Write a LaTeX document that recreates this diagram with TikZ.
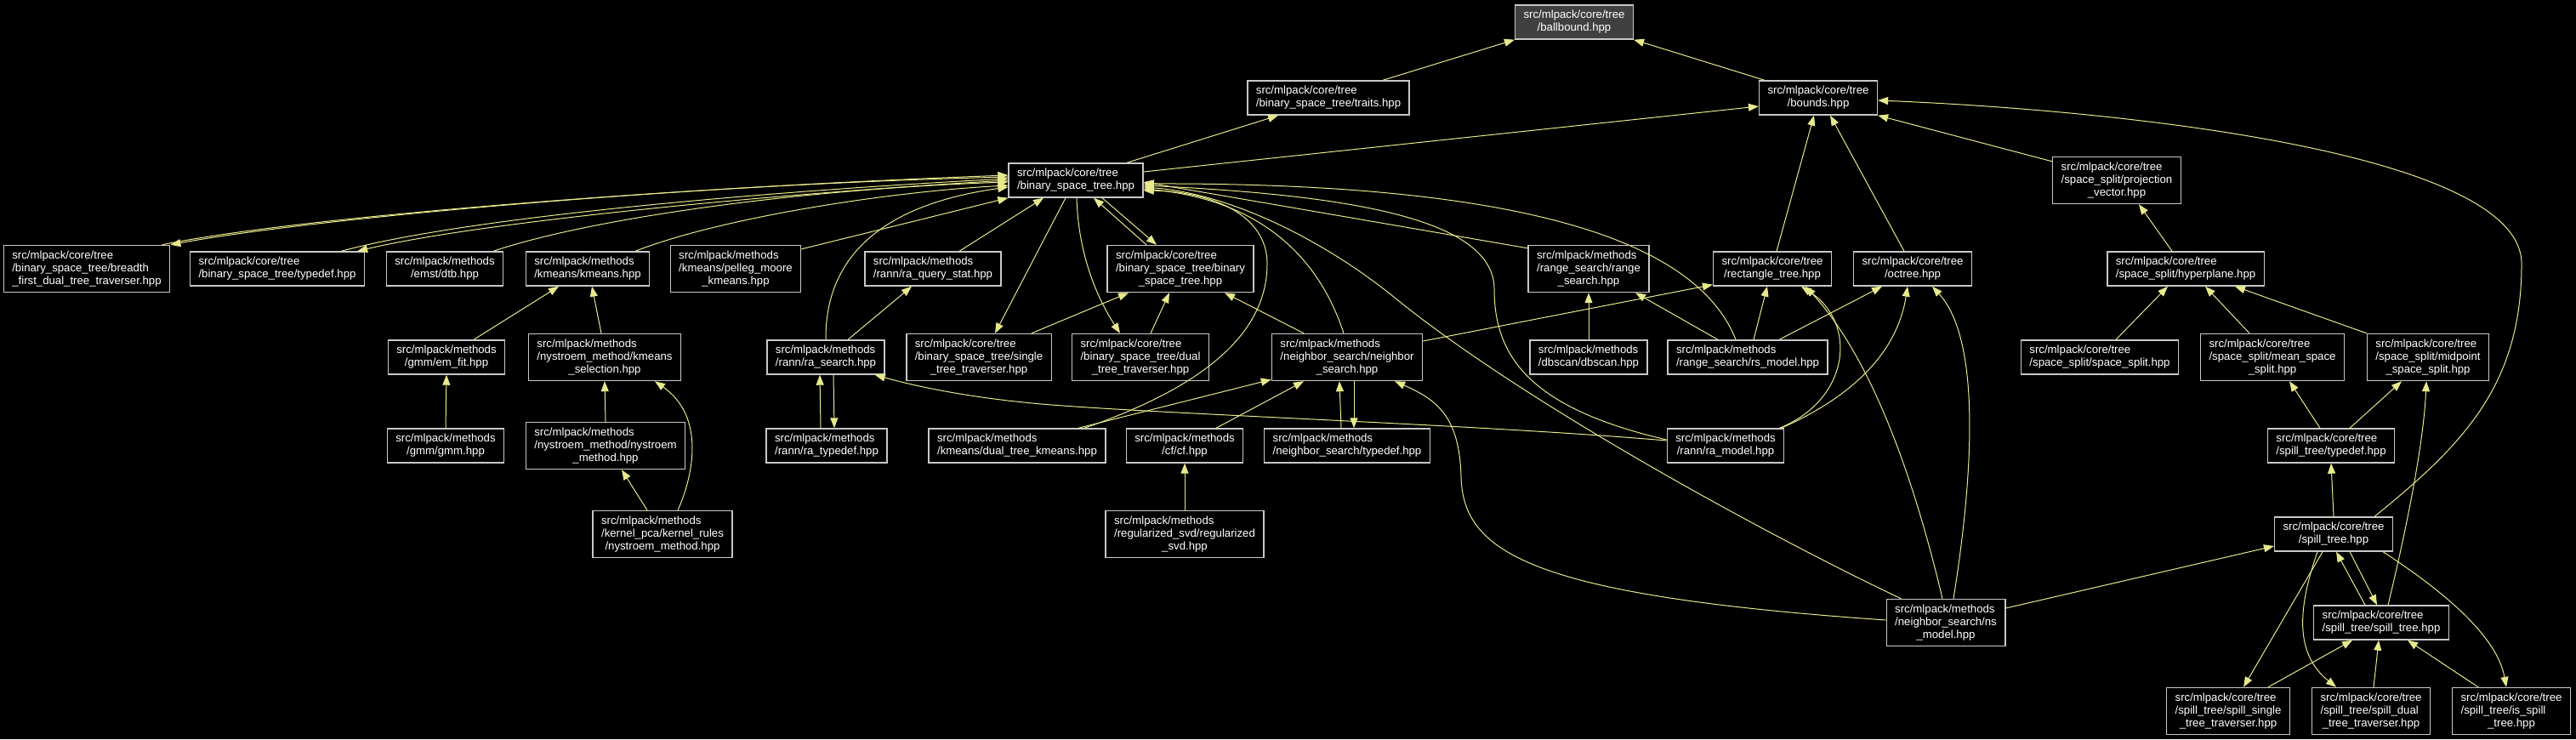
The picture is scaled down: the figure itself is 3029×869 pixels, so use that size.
\documentclass[tikz,border=0pt]{standalone}
\usepackage{fontspec}
\setmainfont{Liberation Sans}
\usetikzlibrary{arrows.meta}
\definecolor{edgeyel}{RGB}{232,232,140}
\definecolor{boxgray}{RGB}{200,200,200}
\definecolor{rootfill}{RGB}{64,64,64}
% all lines left aligned, the last one centred
\newcommand{\flab}[2]{\begin{tabular}{@{}l@{}}#1\\\multicolumn{1}{@{}c@{}}{#2}\end{tabular}}
\tikzset{
  file/.style={draw=boxgray, line width=0.7pt, fill=black, text=white,
    inner xsep=5pt, inner ysep=2.5pt, font=\fontsize{6.6}{7.5}\selectfont},
  root/.style={file, fill=rootfill},
  inc/.style={draw=edgeyel, line width=0.5pt, -{Triangle[length=6pt,width=4.5pt]}}
}

\begin{document}
\begin{tikzpicture}[x=0.5pt,y=-0.5pt]
    % Background
    \fill[black] (0,0) rectangle (3029,869);
    \useasboundingbox (0,0) rectangle (3029,869);

    % Top levels
    \node[root] (ballbound) at (1851,26) {\flab{src/mlpack/core/tree}{/ballbound.hpp}};
    \node[file] (traits) at (1562,115) {\flab{src/mlpack/core/tree}{/binary\_space\_tree/traits.hpp}};
    \node[file] (bounds) at (2138,115) {\flab{src/mlpack/core/tree}{/bounds.hpp}};
    \node[file] (bst) at (1265,212) {\flab{src/mlpack/core/tree}{/binary\_space\_tree.hpp}};
    \node[file] (projvec) at (2489,212) {\flab{src/mlpack/core/tree\\/space\_split/projection}{\_vector.hpp}};

    % Row 1
    \node[file] (breadth) at (102,316) {\flab{src/mlpack/core/tree\\/binary\_space\_tree/breadth}{\_first\_dual\_tree\_traverser.hpp}};
    \node[file] (bsttypedef) at (326,316) {\flab{src/mlpack/core/tree}{/binary\_space\_tree/typedef.hpp}};
    \node[file] (dtb) at (523,316) {\flab{src/mlpack/methods}{/emst/dtb.hpp}};
    \node[file] (kmeans) at (691,316) {\flab{src/mlpack/methods}{/kmeans/kmeans.hpp}};
    \node[file] (pelleg) at (865,316) {\flab{src/mlpack/methods\\/kmeans/pelleg\_moore}{\_kmeans.hpp}};
    \node[file] (raqs) at (1097,316) {\flab{src/mlpack/methods}{/rann/ra\_query\_stat.hpp}};
    \node[file] (bstbin) at (1388,316) {\flab{src/mlpack/core/tree\\/binary\_space\_tree/binary}{\_space\_tree.hpp}};
    \node[file] (rangesearch) at (1868,316) {\flab{src/mlpack/methods\\/range\_search/range}{\_search.hpp}};
    \node[file] (recttree) at (2084,316) {\flab{src/mlpack/core/tree}{/rectangle\_tree.hpp}};
    \node[file] (octree) at (2249,316) {\flab{src/mlpack/core/tree}{/octree.hpp}};
    \node[file] (hyperplane) at (2570,316) {\flab{src/mlpack/core/tree}{/space\_split/hyperplane.hpp}};

    % Row 2
    \node[file] (emfit) at (525,420) {\flab{src/mlpack/methods}{/gmm/em\_fit.hpp}};
    \node[file] (kmsel) at (711,420) {\flab{src/mlpack/methods\\/nystroem\_method/kmeans}{\_selection.hpp}};
    \node[file] (rasearch) at (971,420) {\flab{src/mlpack/methods}{/rann/ra\_search.hpp}};
    \node[file] (single) at (1151,420) {\flab{src/mlpack/core/tree\\/binary\_space\_tree/single}{\_tree\_traverser.hpp}};
    \node[file] (dual) at (1341,420) {\flab{src/mlpack/core/tree\\/binary\_space\_tree/dual}{\_tree\_traverser.hpp}};
    \node[file] (nsearch) at (1584,420) {\flab{src/mlpack/methods\\/neighbor\_search/neighbor}{\_search.hpp}};
    \node[file] (dbscan) at (1868,420) {\flab{src/mlpack/methods}{/dbscan/dbscan.hpp}};
    \node[file] (rsmodel) at (2055,420) {\flab{src/mlpack/methods}{/range\_search/rs\_model.hpp}};
    \node[file] (spsplit) at (2469,420) {\flab{src/mlpack/core/tree}{/space\_split/space\_split.hpp}};
    \node[file] (meansplit) at (2672,420) {\flab{src/mlpack/core/tree\\/space\_split/mean\_space}{\_split.hpp}};
    \node[file] (midsplit) at (2855,420) {\flab{src/mlpack/core/tree\\/space\_split/midpoint}{\_space\_split.hpp}};

    % Row 3
    \node[file] (gmm) at (524,524) {\flab{src/mlpack/methods}{/gmm/gmm.hpp}};
    \node[file] (nysmethod) at (712,524) {\flab{src/mlpack/methods\\/nystroem\_method/nystroem}{\_method.hpp}};
    \node[file] (ratypedef) at (972,524) {\flab{src/mlpack/methods}{/rann/ra\_typedef.hpp}};
    \node[file] (dualkm) at (1196,524) {\flab{src/mlpack/methods}{/kmeans/dual\_tree\_kmeans.hpp}};
    \node[file] (cf) at (1393,524) {\flab{src/mlpack/methods}{/cf/cf.hpp}};
    \node[file] (nstypedef) at (1584,524) {\flab{src/mlpack/methods}{/neighbor\_search/typedef.hpp}};
    \node[file] (ramodel) at (2029,524) {\flab{src/mlpack/methods}{/rann/ra\_model.hpp}};
    \node[file] (spilltypedef) at (2741,524) {\flab{src/mlpack/core/tree}{/spill\_tree/typedef.hpp}};

    % Lower rows
    \node[file] (kpca) at (779,628) {\flab{src/mlpack/methods\\/kernel\_pca/kernel\_rules}{/nystroem\_method.hpp}};
    \node[file] (regsvd) at (1393,628) {\flab{src/mlpack/methods\\/regularized\_svd/regularized}{\_svd.hpp}};
    \node[file] (spilltree) at (2744,628) {\flab{src/mlpack/core/tree}{/spill\_tree.hpp}};
    \node[file] (nsmodel) at (2288,732) {\flab{src/mlpack/methods\\/neighbor\_search/ns}{\_model.hpp}};
    \node[file] (spillspill) at (2800,732) {\flab{src/mlpack/core/tree}{/spill\_tree/spill\_tree.hpp}};
    \node[file] (spillsingle) at (2620,836) {\flab{src/mlpack/core/tree\\/spill\_tree/spill\_single}{\_tree\_traverser.hpp}};
    \node[file] (spilldual) at (2788,836) {\flab{src/mlpack/core/tree\\/spill\_tree/spill\_dual}{\_tree\_traverser.hpp}};
    \node[file] (isspill) at (2953,836) {\flab{src/mlpack/core/tree\\/spill\_tree/is\_spill}{\_tree.hpp}};

    % Includes of ballbound and bounds
    \draw[inc] ([xshift=32pt]traits.north) -- (ballbound.south west);
    \draw[inc] ([xshift=3.5pt]bounds.north west) -- (ballbound.south east);
    \draw[inc] ([xshift=30pt]bst.north) -- ([xshift=-29.5pt]traits.south);
    \draw[inc] ([yshift=5pt]bst.east) -- ([yshift=-5pt]bounds.west);
    \draw[inc] ([xshift=2.5pt]recttree.north) -- ([xshift=-2.5pt]bounds.south);
    \draw[inc] ([xshift=-5pt]octree.north) -- ([xshift=7pt]bounds.south);
    \draw[inc] ([yshift=-3pt]projvec.north west) -- (bounds.south east);
    \draw[inc] ([xshift=24pt]spilltree.north) .. controls (2900,520) and (2965,450) .. (2965,310)
        .. controls (2965,180) and (2500,130) .. ([yshift=-1.5pt]bounds.east);

    % Space split and spill tree
    \draw[inc] ([xshift=-8pt]hyperplane.north) -- ([xshift=13pt]projvec.south);
    \draw[inc] ([xshift=9.5pt]spsplit.north) -- ([xshift=-10.5pt]hyperplane.south);
    \draw[inc] ([xshift=-13.5pt]meansplit.north) -- ([xshift=11.5pt]hyperplane.south);
    \draw[inc] (midsplit.north west) -- ([xshift=29pt]hyperplane.south);
    \draw[inc] ([xshift=-6.5pt]spilltypedef.north) -- ([xshift=10pt]meansplit.south);
    \draw[inc] ([xshift=11pt]spilltypedef.north) -- ([xshift=-15.5pt]midsplit.south);
    \draw[inc] ([xshift=4pt]spillspill.north) .. controls (2830,620) and (2850,520) .. ([xshift=-1pt]midsplit.south);
    \draw[inc] (spilltree.north) -- (spilltypedef.south);
    \draw[inc] ([yshift=8.5pt]nsmodel.east) -- ([yshift=-7pt]spilltree.west);
    \draw[inc] ([xshift=-9.5pt]spillspill.north) -- ([xshift=1.5pt]spilltree.south);
    \draw[inc] ([xshift=9.5pt]spilltree.south) -- ([xshift=-2.5pt]spillspill.north);
    \draw[inc] ([xshift=-6.5pt]spilltree.south) -- ([xshift=9pt]spillsingle.north);
    \draw[inc] ([xshift=-9.5pt]spilltree.south) .. controls (2700,720) and (2700,770) .. ([xshift=-20.5pt]spilldual.north);
    \draw[inc] ([xshift=29pt]spilltree.south) .. controls (2850,680) and (2935,740) .. ([xshift=-3pt]isspill.north);
    \draw[inc] ([xshift=23.5pt]spillsingle.north) -- ([xshift=-17pt]spillspill.south);
    \draw[inc] ([xshift=1.5pt]spilldual.north) -- ([xshift=-1.5pt]spillspill.south);
    \draw[inc] ([xshift=-19.5pt]isspill.north) -- ([xshift=15.5pt]spillspill.south);

    % Range search, rann and neighbor search
    \draw[inc] ([xshift=3.5pt]rsmodel.north) -- ([xshift=-3pt]recttree.south);
    \draw[inc] ([xshift=18.5pt]rsmodel.north) -- ([xshift=-18pt]octree.south);
    \draw[inc] ([xshift=-17.5pt]rsmodel.north) -- ([xshift=27.5pt]rangesearch.south);
    \draw[inc] (dbscan.north) -- (rangesearch.south);
    \draw[inc] ([xshift=-7pt]rsmodel.north) .. controls (1990,270) and (1750,215) .. ([yshift=-2pt]bst.east);
    \draw[inc] ([yshift=-2pt]rangesearch.north west) -- ([yshift=-1pt]bst.east);
    \draw[inc] ([yshift=3.5pt]ramodel.west) .. controls (1800,480) and (1757,420) .. (1757,340)
        .. controls (1757,260) and (1600,230) .. ([yshift=-3pt]bst.east);
    \draw[inc] ([xshift=9pt]nsmodel.north west) .. controls (2100,640) and (1800,480) .. (1640,350)
        .. controls (1560,285) and (1450,228) .. ([yshift=-4pt]bst.east);
    \draw[inc] ([xshift=-2pt]nsearch.north) .. controls (1550,300) and (1480,235) .. ([yshift=-5pt]bst.east);
    \draw[inc] ([xshift=39.5pt]dualkm.north) .. controls (1400,460) and (1490,400) .. (1490,310)
        .. controls (1490,250) and (1420,225) .. ([yshift=-6pt]bst.east);
    \draw[inc] ([xshift=36pt]dualkm.north) -- ([yshift=1pt]nsearch.south west);
    \draw[inc] ([xshift=18.5pt]cf.north) -- ([xshift=-25.5pt]nsearch.south);
    \draw[inc] (regsvd.north) -- (cf.south);
    \draw[inc] ([xshift=-3.5pt]nstypedef.north) -- ([xshift=-4.5pt]nsearch.south);
    \draw[inc] ([xshift=4pt]nsearch.south) -- ([xshift=4pt]nstypedef.north);
    \draw[inc] ([yshift=1.5pt]nsmodel.west) .. controls (1800,700) and (1720,650) .. (1718,560)
        .. controls (1716,490) and (1690,470) .. ([xshift=28pt]nsearch.south);
    \draw[inc] ([yshift=9.5pt]nsearch.east) -- ([yshift=1pt]recttree.south west);
    \draw[inc] ([xshift=-3pt]ramodel.north east) .. controls (2175,470) and (2185,380) .. ([xshift=17pt]recttree.south);
    \draw[inc] ([xshift=-2pt]ramodel.north east) .. controls (2170,470) and (2230,420) .. ([xshift=-3pt]octree.south);
    \draw[inc] ([xshift=-2pt]nsmodel.north) .. controls (2250,560) and (2200,420) .. ([xshift=19.5pt]recttree.south);
    \draw[inc] ([xshift=4.5pt]nsmodel.north) .. controls (2320,560) and (2330,400) .. ([xshift=11.5pt]octree.south);
    \draw[inc] ([yshift=3pt]ramodel.west) .. controls (1750,500) and (1400,488) .. (1250,477)
        .. controls (1150,470) and (1080,455) .. ([xshift=-6pt]rasearch.south east);

    % Binary space tree
    \draw[inc] ([xshift=-3.5pt]ratypedef.north) -- ([xshift=-3.5pt]rasearch.south);
    \draw[inc] ([xshift=4.5pt]rasearch.south) -- ([xshift=4.5pt]ratypedef.north);
    \draw[inc] ([xshift=13pt]rasearch.north) -- ([xshift=-12.5pt]raqs.south);
    \draw[inc] (rasearch.north) .. controls (970,300) and (1040,240) .. ([yshift=-4pt]bst.west);
    \draw[inc] ([xshift=15.5pt]raqs.north) -- ([xshift=-19pt]bst.south);
    \draw[inc] ([xshift=-6pt]bst.south) -- ([xshift=9.5pt]single.north);
    \draw[inc] ([xshift=0.5pt]bst.south) .. controls (1268,300) and (1290,350) .. ([xshift=-12pt]dual.north);
    \draw[inc] ([xshift=-20pt]bstbin.north) -- ([xshift=10.5pt]bst.south);
    \draw[inc] ([xshift=15.5pt]bst.south) -- ([xshift=-14pt]bstbin.north);
    \draw[inc] ([xshift=31pt]single.north) -- ([xshift=-30.5pt]bstbin.south);
    \draw[inc] ([xshift=6pt]dual.north) -- ([xshift=-6.5pt]bstbin.south);
    \draw[inc] ([xshift=-25.5pt]nsearch.north) -- ([xshift=26pt]bstbin.south);
    \draw[inc] ([xshift=-5pt]breadth.north east) .. controls (350,255) and (800,220) .. ([yshift=3pt]bst.west);
    \draw[inc] ([yshift=2pt]bst.west) .. controls (800,217) and (360,258) .. (breadth.north east);
    \draw[inc] ([xshift=-14pt]bsttypedef.north east) .. controls (550,255) and (900,225) .. ([yshift=1pt]bst.west);
    \draw[inc] (bst.west) .. controls (900,228) and (560,262) .. ([xshift=-4.5pt]bsttypedef.north east);
    \draw[inc] ([xshift=28.5pt]dtb.north) .. controls (700,255) and (950,222) .. ([yshift=-1pt]bst.west);
    \draw[inc] ([xshift=28pt]kmeans.north) .. controls (850,255) and (1050,225) .. ([yshift=-3pt]bst.west);
    \draw[inc] ([yshift=-2.5pt]pelleg.north east) -- (bst.south west);

    % Kmeans and nystroem
    \draw[inc] ([xshift=16pt]emfit.north) -- ([xshift=-17pt]kmeans.south);
    \draw[inc] ([xshift=-2pt]kmsel.north) -- ([xshift=2.5pt]kmeans.south);
    \draw[inc] (gmm.north) -- (emfit.south);
    \draw[inc] (nysmethod.north) -- (kmsel.south);
    \draw[inc] ([xshift=-9pt]kpca.north) -- ([xshift=9.5pt]nysmethod.south);
    \draw[inc] ([xshift=9pt]kpca.north) .. controls (815,560) and (830,490) .. ([xshift=29.5pt]kmsel.south);
\end{tikzpicture}
\end{document}
